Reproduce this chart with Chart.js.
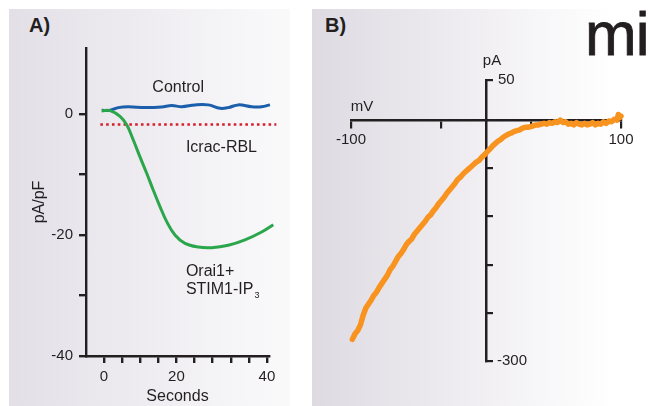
<!DOCTYPE html>
<html>
<head>
<meta charset="utf-8">
<script src="https://cdn.jsdelivr.net/npm/chart.js@4.4.1/dist/chart.umd.min.js"></script>
<style>
html, body { margin:0; padding:0; background:#fff; width:654px; height:406px; overflow:hidden;
  font-family:"Liberation Sans", Arial, sans-serif; color:#231f20; }
#pa { position:absolute; left:9px; top:9px; width:281px; height:397px;
  background:linear-gradient(to right, #e3dfe7, #fafafb); }
#pb { position:absolute; left:312px; top:9px; width:342px; height:397px;
  background:linear-gradient(to right, #dedae2, #ffffff 88%); }
.tag { position:absolute; top:15px; font-weight:bold; font-size:20px; line-height:20px; }
#logo { position:absolute; left:585px; top:3px; font-size:62px; line-height:62px; letter-spacing:-1px;
  -webkit-text-stroke:0.8px #231f20; }
#ca { position:absolute; left:0; top:0; }
#cb { position:absolute; left:312px; top:0; }
</style>
</head>
<body>
<div id="pa"></div>
<div id="pb"></div>
<div class="tag" style="left:29px">A)</div>
<div class="tag" style="left:325px">B)</div>
<div id="logo">mi</div>
<canvas id="ca" width="300" height="406"></canvas>
<canvas id="cb" width="342" height="406"></canvas>
<script>
// panel A: current density over time
const timeTicks = [0, 4.44, 8.89, 13.33, 17.78, 22.22, 26.67, 31.11, 35.56, 40];
const timeLabels = ['0', '', '', '', '20', '', '', '', '', '40'];
const densityTicks = [-40, -30, -20, -10, 0];
const densityLabels = ['-40', '', '-20', '', '0'];

const controlT = [-0.56, 1.47, 3.51, 5.96, 10.06, 14.16, 16.61, 19.07, 22.33, 25.59, 28.47, 30.5, 32.96, 36.25, 38.7, 40.74];
const controlV = [0.6, 0.6, 1.05, 1.2, 1.05, 1.15, 1.4, 1.2, 1.5, 1.5, 0.94, 1.05, 1.5, 1.2, 1.2, 1.5];

const orai1T = [-0.56, 1.47, 3.93, 5.57, 7.19, 8.83, 10.48, 12.1, 13.74, 15.39, 17.42, 19.88, 23.14, 26.43, 30.5, 34.6, 38.7, 41.55];
const orai1V = [0.5, 0.55, -0.4, -1.8, -4.3, -7.1, -9.8, -12.6, -15.3, -17.8, -20.0, -21.4, -22.0, -22.1, -21.7, -20.8, -19.5, -18.3];

const rblT = [-0.9, 42.3];
const rblV = [-1.75, -1.75];

// panel B: current-voltage relation
const voltTicks = [-100, -33.3, 33.3, 100];
const voltLabels = ['-100', '', '', '100'];
const currentTicks = [50, -60, -120, -180, -240, -300];

const ivMV = [-99, -97, -95, -93, -91, -89, -87, -85, -83, -81, -79, -77, -75, -73, -71, -69, -67, -65, -63, -61,
  -59, -57, -55, -53, -51, -49, -47, -45, -43, -41, -39, -37, -35, -33, -31, -29, -27, -25, -23, -21,
  -19, -17, -15, -13, -11, -9, -7, -5, -3, -1, 1, 3, 5, 7, 9, 11, 13, 15, 17, 19,
  21, 23, 25, 27, 29, 31, 33, 35, 37, 39, 41, 43, 45, 47, 49, 51, 53, 55, 57, 59,
  61, 63, 65, 67, 69, 71, 73, 75, 77, 79, 81, 83, 85, 87, 89, 91, 93, 95, 97, 98, 99, 100];
const ivPA = [-273, -266, -262, -255, -243, -234, -229, -224, -218, -214, -208, -203, -198, -193, -186, -182, -176, -170, -166, -161,
  -155, -151, -148, -142, -138, -134, -130, -126, -121, -118, -113, -109, -104, -100, -96, -91, -87, -83, -79, -74,
  -71, -67, -64, -61, -58, -55, -52, -50, -46, -43, -39, -36, -32, -29, -26, -24, -21, -19, -17, -16,
  -14, -13, -12, -10, -9, -9, -8, -7, -6, -6, -5, -4, -5, -3, -4, -2, -3, 0, -3, -2,
  -5, -4, -6, -3, -5, -6, -4, -6, -5, -3, -6, -4, -5, -2, -4, -1, -2, 1, 0, 7, 3, 5];

const ink = '#231f20';
const fam = '"Liberation Sans", Arial, sans-serif';

const pts = (xs, ys) => xs.map((v, i) => ({x: v, y: ys[i]}));

const annotA = {
  id: 'annotA',
  afterDatasetsDraw(chart) {
    const {ctx, scales: {x, y}} = chart;
    ctx.save();
    ctx.fillStyle = ink;
    ctx.font = '16px ' + fam;
    ctx.textBaseline = 'middle';
    ctx.textAlign = 'center';
    ctx.fillText('Control', x.getPixelForValue(18.2), y.getPixelForValue(4.3));
    ctx.textAlign = 'left';
    ctx.fillText('Icrac-RBL', x.getPixelForValue(20.1), y.getPixelForValue(-5.6));
    ctx.fillText('Orai1+', x.getPixelForValue(20.1), y.getPixelForValue(-26.0));
    const sx = x.getPixelForValue(20.1), sy = y.getPixelForValue(-29.0);
    ctx.fillText('STIM1-IP', sx, sy);
    const w = ctx.measureText('STIM1-IP').width;
    ctx.font = '9px ' + fam;
    ctx.fillText('3', sx + w + 1, sy + 6);
    ctx.restore();
  }
};

new Chart(document.getElementById('ca'), {
  type: 'line',
  data: {
    datasets: [
      {data: pts(orai1T, orai1V), borderColor: '#2ba64b', borderWidth: 3, pointRadius: 0, tension: 0.4, clip: false},
      {data: pts(controlT, controlV), borderColor: '#1b5eab', borderWidth: 3, pointRadius: 0, tension: 0.4, clip: false},
      {data: pts(rblT, rblV), borderColor: '#d41f2c', borderWidth: 2.6, borderDash: [2.6, 3.2], pointRadius: 0, clip: false}
    ]
  },
  options: {
    responsive: false,
    animation: false,
    layout: {padding: {left: 0, top: 48, right: 31, bottom: 0}},
    plugins: {legend: {display: false}, tooltip: {enabled: false}},
    scales: {
      x: {
        type: 'linear', min: -4.42, max: 40.5,
        afterBuildTicks: s => { s.ticks = timeTicks.map(v => ({value: v})); },
        afterFit: s => { s.height = 50; },
        border: {display: true, color: ink, width: 2.4},
        grid: {drawOnChartArea: false, drawTicks: true, tickLength: 7, color: ink, lineWidth: 2.4},
        ticks: {padding: 5, color: ink, font: {family: fam, size: 15}, maxRotation: 0, autoSkip: false,
          callback: (v, i) => timeLabels[i]},
        title: {display: true, text: 'Seconds', color: ink, font: {family: fam, size: 16}, padding: {top: 0, bottom: 0}}
      },
      y: {
        type: 'linear', min: -40, max: 10.9,
        afterBuildTicks: s => { s.ticks = densityTicks.map(v => ({value: v})); },
        afterFit: s => { s.width = 86; },
        border: {display: true, color: ink, width: 2.4},
        grid: {drawOnChartArea: false, drawTicks: true, tickLength: 7, color: ink, lineWidth: 2.4},
        ticks: {padding: 6, color: ink, font: {family: fam, size: 15}, autoSkip: false,
          callback: (v, i) => densityLabels[i]},
        title: {display: true, text: 'pA/pF', color: ink, font: {family: fam, size: 16}, padding: {top: 30, bottom: 0}}
      }
    }
  },
  plugins: [annotA]
});

const annotB = {
  id: 'annotB',
  afterDraw(chart) {
    const {ctx, scales: {x, y}} = chart;
    const x0 = x.getPixelForValue(0);
    ctx.save();
    ctx.fillStyle = ink;
    ctx.font = '15px ' + fam;
    ctx.textBaseline = 'middle';
    ctx.textAlign = 'left';
    ctx.fillText('50', x0 + 12, y.getPixelForValue(50));
    ctx.fillText('-300', x0 + 11, y.getPixelForValue(-300));
    ctx.textAlign = 'center';
    ctx.fillText('pA', x0 + 6, y.getPixelForValue(50) - 19);
    ctx.fillText('mV', x.getPixelForValue(-100) + 11, y.getPixelForValue(0) - 13);
    ctx.restore();
  }
};

new Chart(document.getElementById('cb'), {
  type: 'line',
  data: {
    datasets: [
      {data: pts(ivMV, ivPA), borderColor: '#f7931e', borderWidth: 5.5, pointRadius: 0, tension: 0,
        borderJoinStyle: 'round', borderCapStyle: 'round', clip: false}
    ]
  },
  options: {
    responsive: false,
    animation: false,
    layout: {padding: {left: 39, top: 80, right: 33, bottom: 45}},
    plugins: {legend: {display: false}, tooltip: {enabled: false}},
    scales: {
      x: {
        type: 'linear', min: -100, max: 100, position: {y: 0},
        afterBuildTicks: s => { s.ticks = voltTicks.map(v => ({value: v})); },
        border: {display: true, color: ink, width: 2.5},
        grid: {drawOnChartArea: false, drawTicks: true, tickLength: 7, color: ink, lineWidth: 2.2},
        ticks: {padding: 4, color: ink, font: {family: fam, size: 15}, maxRotation: 0, autoSkip: false,
          callback: (v, i) => voltLabels[i]}
      },
      y: {
        type: 'linear', min: -300, max: 50, position: {x: 0},
        afterBuildTicks: s => { s.ticks = currentTicks.map(v => ({value: v})); },
        border: {display: true, color: ink, width: 2.5},
        grid: {drawOnChartArea: false, drawTicks: true, tickLength: -8, color: ink, lineWidth: 2.2},
        ticks: {display: false}
      }
    }
  },
  plugins: [annotB]
});
</script>
</body>
</html>
